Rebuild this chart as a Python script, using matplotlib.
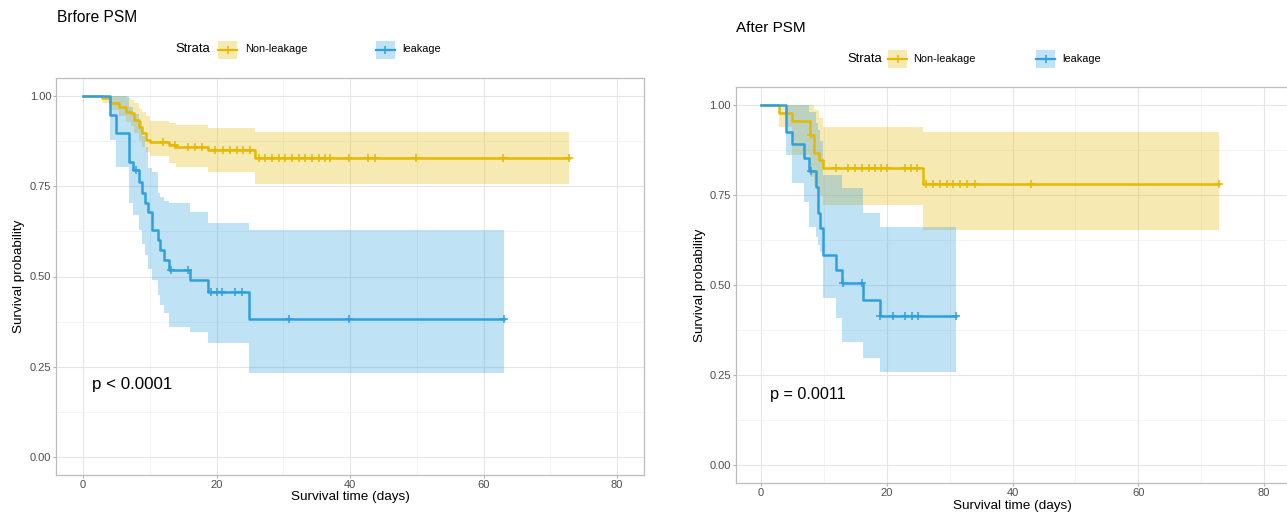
import matplotlib
matplotlib.use("Agg")
import matplotlib.pyplot as plt
from matplotlib.patches import Rectangle
from matplotlib.lines import Line2D
import numpy as np

plt.rcParams['font.family'] = ['Liberation Sans', 'DejaVu Sans']

YELLOW = "#E7B800"
BLUE = "#2E9FDF"

# ---------------- Before PSM ----------------
# Non-leakage
t_yl = [0, 2.9, 4.0, 5.4, 6.4, 7.2, 7.7, 8.4, 8.9, 9.5, 10.1, 12.9, 13.9, 18.8, 25.8]
s_yl = [1.0, 0.994, 0.981, 0.970, 0.957, 0.952, 0.934, 0.915, 0.897, 0.878, 0.873, 0.864, 0.860, 0.850, 0.827]
lo_yl = [1.0, 0.982, 0.962, 0.945, 0.928, 0.918, 0.898, 0.876, 0.860, 0.845, 0.835, 0.814, 0.804, 0.789, 0.756]
hi_yl = [1.0, 1.0, 1.0, 1.0, 0.995, 0.99, 0.98, 0.965, 0.955, 0.945, 0.93, 0.925, 0.92, 0.912, 0.901]
end_yl = 72.8
cens_yl = [12.0, 13.8, 15.7, 16.8, 17.8, 19.8, 21.0, 22.0, 23.0, 24.0, 25.0,
           26.3, 27.3, 28.3, 29.3, 30.3, 31.3, 32.3, 33.3, 34.3, 35.3, 36.3, 37.0,
           39.9, 42.7, 43.7, 49.9, 62.9, 72.8]
# leakage
t_bl = [0, 4.0, 4.9, 6.9, 7.5, 8.4, 8.9, 9.3, 9.8, 10.3, 11.2, 11.6, 12.2, 12.9, 16.0, 18.8, 24.9]
s_bl = [1.0, 0.947, 0.897, 0.818, 0.795, 0.763, 0.73, 0.703, 0.679, 0.629, 0.601, 0.573, 0.546, 0.518, 0.490, 0.458, 0.381]
lo_bl = [1.0, 0.878, 0.804, 0.703, 0.67, 0.63, 0.59, 0.56, 0.52, 0.49, 0.45, 0.42, 0.40, 0.36, 0.345, 0.316, 0.232]
hi_bl = [1.0, 1.0, 1.0, 0.97, 0.95, 0.93, 0.89, 0.86, 0.80, 0.79, 0.73, 0.72, 0.71, 0.703, 0.679, 0.648, 0.629]
end_bl = 63.0
cens_bl = [7.9, 13.2, 15.8, 19.2, 20.0, 20.8, 22.8, 23.8, 30.9, 39.9, 63.0]

# ---------------- After PSM ----------------
t_yr = [0, 2.9, 4.9, 7.8, 8.4, 9.2, 9.9, 25.8]
s_yr = [1.0, 0.977, 0.955, 0.917, 0.868, 0.847, 0.824, 0.780]
lo_yr = [1.0, 0.94, 0.86, 0.80, 0.775, 0.75, 0.722, 0.653]
hi_yr = [1.0, 1.0, 1.0, 1.0, 0.985, 0.965, 0.94, 0.926]
end_yr = 72.9
cens_yr = [7.9, 11.9, 13.8, 15.0, 16.1, 17.1, 18.1, 19.1, 20.1, 22.9, 23.9, 24.8,
           26.3, 27.4, 28.5, 29.5, 30.6, 31.6, 32.7, 34.0, 43.0, 72.9]
t_br = [0, 3.9, 4.9, 6.8, 7.7, 8.8, 9.1, 9.4, 9.9, 12.0, 12.9, 16.3, 18.9]
s_br = [1.0, 0.925, 0.892, 0.852, 0.817, 0.773, 0.699, 0.657, 0.583, 0.543, 0.505, 0.458, 0.413]
lo_br = [1.0, 0.861, 0.782, 0.731, 0.66, 0.634, 0.61, 0.593, 0.463, 0.407, 0.343, 0.296, 0.259]
hi_br = [1.0, 1.0, 1.0, 1.0, 0.98, 0.95, 0.93, 0.90, 0.806, 0.806, 0.769, 0.70, 0.662]
end_br = 31.0
cens_br = [8.0, 13.1, 16.0, 18.9, 21.0, 22.9, 24.0, 25.0, 31.0]

strata_labels = ["Non-leakage", "leakage"]
x_ticks = [0, 20, 40, 60, 80]
y_ticks = [0.0, 0.25, 0.5, 0.75, 1.0]
y_tick_labels = ["0.00", "0.25", "0.50", "0.75", "1.00"]

W, H = 1287, 514
fig = plt.figure(figsize=(W / 100, H / 100), dpi=100)


def px_axes(l, t, r, b):
    return [l / W, 1 - b / H, (r - l) / W, (b - t) / H]


ax1 = fig.add_axes(px_axes(56.3, 78, 643.7, 475))
ax2 = fig.add_axes(px_axes(735.85, 87, 1289.2, 483))


def band(ax, t, lo, hi, tend, color):
    x = list(t) + [tend]
    ax.fill_between(x, list(lo) + [lo[-1]], list(hi) + [hi[-1]], step='post',
                    color=color, alpha=0.3, lw=0)


def curve(ax, t, s, tend, cens, color):
    x = list(t) + [tend]
    ax.step(x, list(s) + [s[-1]], where='post', color=color, lw=1.8)
    idx = np.searchsorted(np.array(t), np.array(cens), side='right') - 1
    cs = [s[i] for i in idx]
    ax.plot(cens, cs, ls='none', marker='+', ms=6, mew=1.1, color=color)


def style(ax, xlab_y, ylab_x):
    ax.set_xlim(-4, 84)
    ax.set_ylim(-0.05, 1.05)
    ax.set_xticks(x_ticks)
    ax.set_xticks([10, 30, 50, 70], minor=True)
    ax.set_yticks(y_ticks)
    ax.set_yticklabels(y_tick_labels)
    ax.set_yticks([0.125, 0.375, 0.625, 0.875], minor=True)
    ax.grid(which='major', color='#E6E6E6', lw=0.8)
    ax.grid(which='minor', color='#F0F0F0', lw=0.5)
    ax.set_axisbelow(True)
    for sp in ax.spines.values():
        sp.set_color('#BDBDBD')
        sp.set_linewidth(0.9)
    ax.tick_params(which='major', length=2.5, color='#B3B3B3', labelsize=8,
                   labelcolor='#4D4D4D', pad=1.2)
    ax.tick_params(which='minor', length=0)
    ax.set_xlabel("Survival time (days)", fontsize=9.7, va='center')
    ax.xaxis.set_label_coords(0.5, xlab_y)
    ax.set_ylabel("Survival probability", fontsize=9.7, va='center')
    ax.yaxis.set_label_coords(ylab_x, 0.5)


# Before PSM
band(ax1, t_yl, lo_yl, hi_yl, end_yl, YELLOW)
curve(ax1, t_yl, s_yl, end_yl, cens_yl, YELLOW)
band(ax1, t_bl, lo_bl, hi_bl, end_bl, BLUE)
curve(ax1, t_bl, s_bl, end_bl, cens_bl, BLUE)
style(ax1, -0.0554, -0.064)
ax1.text(1.4, 0.20, "p < 0.0001", fontsize=12.2, va='center', ha='left')

# After PSM
band(ax2, t_yr, lo_yr, hi_yr, end_yr, YELLOW)
curve(ax2, t_yr, s_yr, end_yr, cens_yr, YELLOW)
band(ax2, t_br, lo_br, hi_br, end_br, BLUE)
curve(ax2, t_br, s_br, end_br, cens_br, BLUE)
style(ax2, -0.058, -0.065)
ax2.text(1.4, 0.197, "p = 0.0011", fontsize=11.6, va='center', ha='left')

# Titles
fig.text(57 / W, 1 - 18 / H, "Brfore PSM", fontsize=11.2, va='center', ha='left')
fig.text(736 / W, 1 - 27.5 / H, "After PSM", fontsize=11.0, va='center', ha='left')


def legend(strata_x, cy, key_xs, text_xs, key_w=19, key_h=18):
    fig.text(strata_x / W, 1 - cy / H, "Strata", fontsize=9.4, va='center', ha='left')
    for kx, tx, col, lab in zip(key_xs, text_xs, [YELLOW, BLUE], strata_labels):
        fig.add_artist(Rectangle((kx / W, 1 - (cy + key_h / 2) / H), key_w / W, key_h / H,
                                 transform=fig.transFigure, facecolor=col, alpha=0.3, lw=0))
        fig.add_artist(Line2D([kx / W, (kx + key_w) / W], [1 - cy / H, 1 - cy / H],
                              transform=fig.transFigure, color=col, lw=1.6))
        fig.add_artist(Line2D([(kx + key_w / 2) / W], [1 - cy / H], transform=fig.transFigure,
                              color=col, marker='+', ms=6, mew=1.1, ls='none'))
        fig.text(tx / W, 1 - cy / H, lab, fontsize=7.9, va='center', ha='left')


legend(175, 49.5, [218, 375.5], [245, 402])
legend(847.7, 58.8, [888, 1036], [913, 1062])

fig.savefig("out.png", dpi=100)
